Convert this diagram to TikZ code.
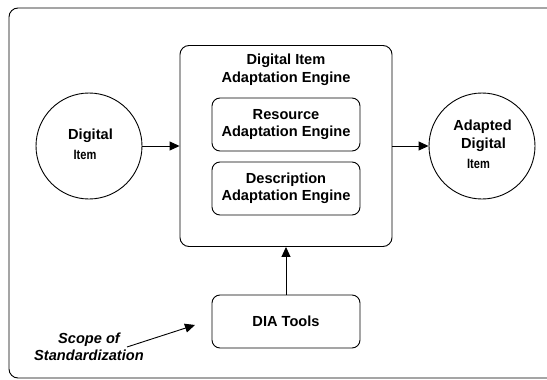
\documentclass[tikz,border=0pt]{standalone}
\usepackage{fontspec}
\setmainfont{Liberation Sans}
\newfontfamily\narrowf{Liberation Sans}[FakeStretch=0.82]
\usetikzlibrary{arrows.meta}
\begin{document}
\begin{tikzpicture}[x=1pt,y=-1pt,
  line width=0.9pt,
  every node/.style={font=\fontsize{14.6}{17.5}\selectfont\bfseries, inner sep=0pt},
  rbox/.style={draw, rounded corners=8pt, minimum width=148pt, minimum height=53pt, align=center},
  bigbox/.style={draw, rounded corners=9pt, minimum width=212pt, minimum height=201pt},
  ring/.style={draw, circle, minimum size=106pt},
  small/.style={font=\narrowf\bfseries\fontsize{13.5}{15}\selectfont},
  arr/.style={-{Triangle[length=10pt,width=9pt]}}]
\useasboundingbox (0,0) rectangle (547,380);
\clip (0,0) rectangle (547,380);
\draw[rounded corners=9pt] (9,8) rectangle (570,378);

\node[bigbox] (main) at (286,146) {};
\node[align=center] (title) at (286,70) {Digital Item\\Adaptation Engine};
\node[rbox] (res) at (286,124.5) {Resource\\Adaptation Engine};
\node[rbox] (desc) at (286,188.5) {Description\\Adaptation Engine};
\node[rbox] (tools) at (286,321.5) {DIA Tools};

\node[ring] (in) at (89,146) {};
\node (inA) at (90.5,136) {Digital};
\node[small] (inB) at (85,154.5) {Item};

\node[ring] (out) at (482,146) {};
\node (outA) at (482.5,127) {Adapted};
\node (outB) at (483.5,145) {Digital};
\node[small] (outC) at (478.5,163.5) {Item};

\node[align=center, font=\fontsize{14.6}{17.5}\selectfont\bfseries\itshape] (scope) at (89,347) {Scope of\\Standardization};
\coordinate (sA) at (127,347);
\coordinate (sB) at (195,325);

\draw[arr] (in) -- (main);
\draw[arr] (main) -- (out);
\draw[arr] (tools) -- (main);
\draw[arr] (sA) -- (sB);
\end{tikzpicture}
\end{document}
